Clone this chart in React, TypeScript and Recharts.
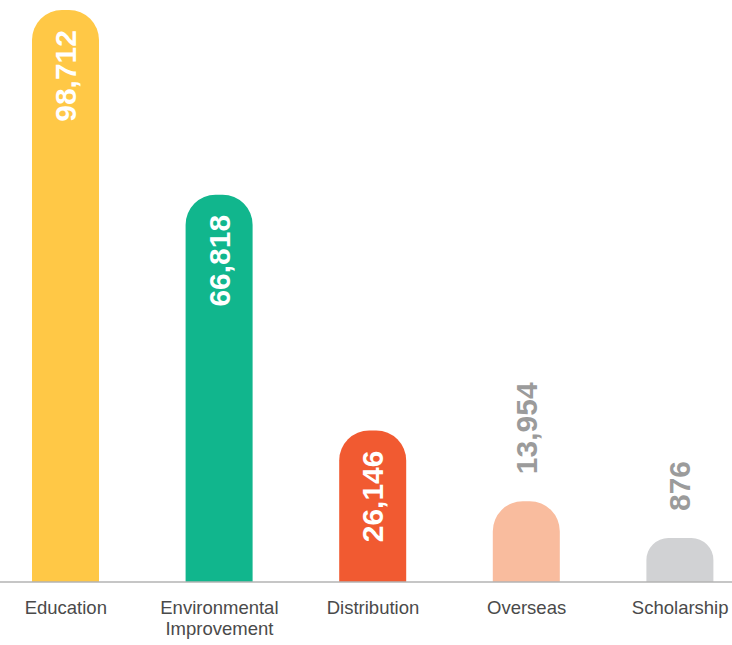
import React from "react";
import { BarChart, Bar, XAxis, YAxis, Cell, LabelList } from "recharts";

const categories = ["Education", "Environmental Improvement", "Distribution", "Overseas", "Scholarship"];
const amounts = [98712, 66818, 26146, 13954, 876];
const barColors = ["#FFC846", "#11B68D", "#F15A31", "#F9BC9E", "#D1D2D4"];

const data = categories.map((name, i) => ({ name, amount: amounts[i] }));

const fmt = (v: number) => v.toLocaleString("en-US");

function ValueLabel(props: any) {
  const { x, y, width, height, value } = props;
  const cx = x + width / 2;
  const inside = height > 120;
  const ty = inside ? y + 20 : y - 27;
  return (
    <text
      x={cx}
      y={ty}
      transform={`rotate(-90 ${cx} ${ty})`}
      textAnchor={inside ? "end" : "start"}
      dominantBaseline="central"
      fill={inside ? "#ffffff" : "#9b9b9b"}
      fontSize={30}
      fontWeight={600}
      fontFamily="'Liberation Sans', Arial, sans-serif">
      {fmt(value)}
    </text>
  );
}

function CategoryTick(props: any) {
  const { x, y, payload } = props;
  const lines = String(payload.value).split(" ");
  return (
    <text
      x={x}
      y={y}
      textAnchor="middle"
      fill="#4a4a4a"
      fontSize={18.5}
      fontFamily="'Liberation Sans', Arial, sans-serif">
      {lines.map((l, i) => (
        <tspan key={i} x={x} dy={i === 0 ? 32 : 21}>
          {l}
        </tspan>
      ))}
    </text>
  );
}

export default function App() {
  return (
    <div style={{ position: "absolute", left: 0, top: 0, width: 732, height: 645, overflow: "hidden" }}>
      <BarChart
        width={732}
        height={645}
        data={data}
        margin={{ top: 10, right: -25, bottom: 0, left: -11 }}>
        <XAxis
          dataKey="name"
          height={63}
          tickLine={false}
          tickSize={0}
          tickMargin={0}
          interval={0}
          axisLine={{ stroke: "#b3b3b3", strokeWidth: 1.5 }}
          tick={<CategoryTick />}
        />
        <YAxis hide domain={[0, "dataMax"]} />
        <Bar
          dataKey="amount"
          barSize={67}
          radius={[30, 30, 0, 0]}
          minPointSize={44}
          isAnimationActive={false}>
          {data.map((d, i) => (
            <Cell key={d.name} fill={barColors[i]} />
          ))}
          <LabelList dataKey="amount" content={<ValueLabel />} />
        </Bar>
      </BarChart>
    </div>
  );
}
